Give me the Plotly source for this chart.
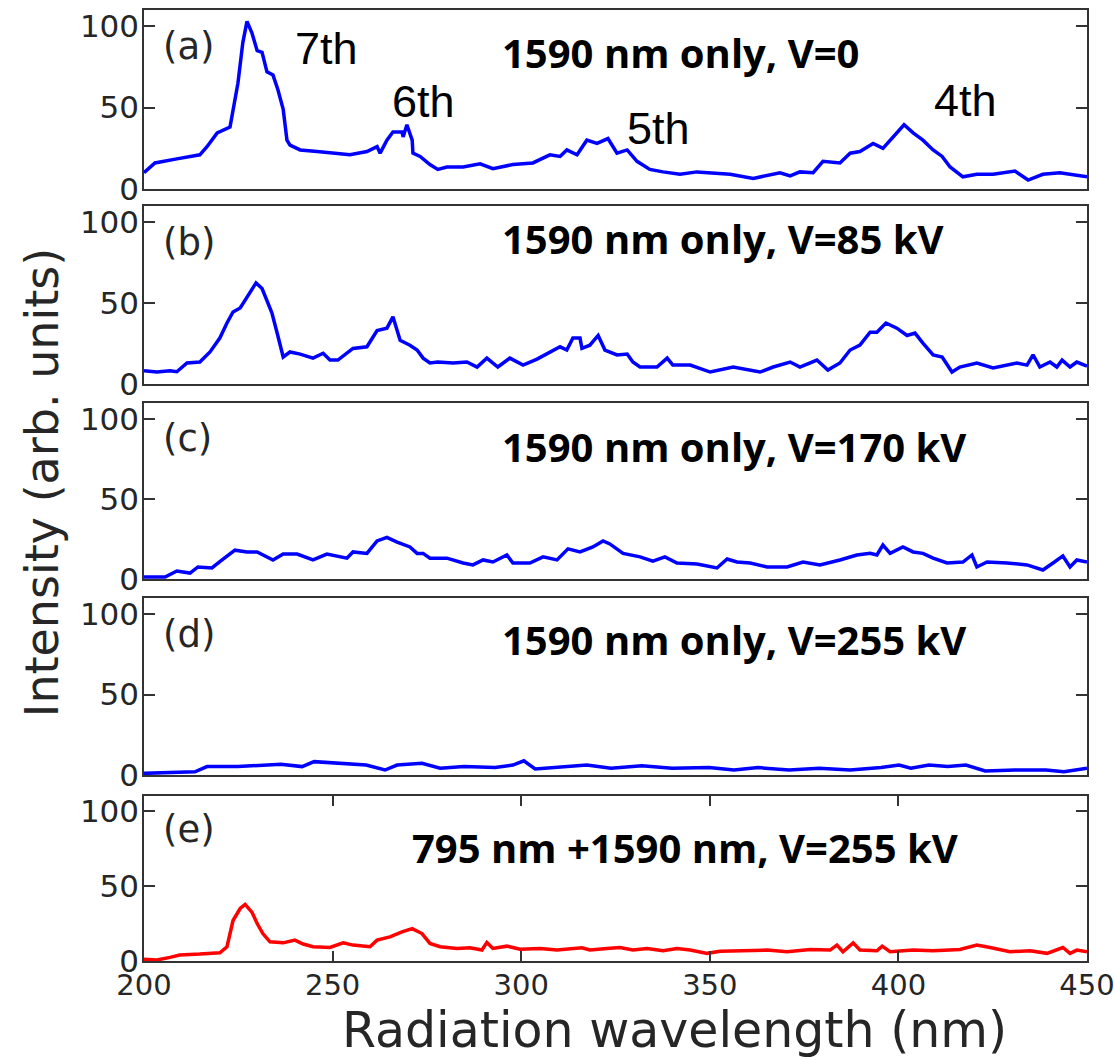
import plotly.graph_objects as go
from plotly.subplots import make_subplots

# Harmonic spectra, intensity (arb. units) vs radiation wavelength (nm)
wl_a = [200.0, 202.9, 208.7, 214.8, 216.7, 219.4, 222.8, 224.9, 226.2, 227.3, 228.6, 230.0,
        231.3, 232.6, 234.2, 235.5, 236.9, 237.9, 238.7, 241.4, 245.9, 250.1, 254.6, 259.1,
        261.8, 262.6, 264.4, 266.0, 268.4, 268.7, 269.7, 271.1, 271.3, 273.2, 275.8, 277.9,
        280.3, 284.6, 289.1, 292.5, 297.8, 303.1, 307.6, 310.3, 312.1, 314.8, 317.4, 320.1,
        323.0, 325.4, 328.1, 330.7, 334.1, 337.6, 342.1, 346.6, 350.8, 355.4, 361.5, 368.6,
        371.3, 373.9, 377.4, 380.0, 384.5, 387.2, 389.8, 393.3, 395.9, 398.6, 401.5, 403.9,
        406.5, 409.2, 411.6, 413.7, 417.1, 420.8, 425.1, 430.9, 434.4, 438.3, 442.8, 450.0]
int_a = [10, 16, 18.5, 21, 26, 34.5, 38, 65, 90, 103, 96, 85,
         84, 72, 70, 61, 49, 30, 27, 24, 23, 22, 21, 23,
         26, 22, 30, 35, 35, 32, 39.5, 30, 22, 20, 15, 12,
         13.5, 13.5, 15.5, 12.5, 15, 16, 21, 20, 24, 21, 30, 28,
         31, 22, 24, 17, 12, 10.5, 9, 10.5, 10, 9, 6.5, 10,
         8, 10.5, 10, 17, 16, 22, 23, 28, 25, 32, 39.5, 34.5,
         30, 24, 20, 13.5, 7.5, 9, 9, 11, 5.5, 9, 10, 7.5]

wl_b = [200.0, 203.4, 206.9, 208.7, 211.4, 214.8, 217.5, 220.1, 222.0, 223.6, 225.5, 227.6,
        229.7, 231.3, 232.6, 233.9, 235.3, 236.9, 238.7, 241.4, 244.8, 247.5, 249.3, 251.4,
        255.4, 259.1, 261.8, 264.4, 266.0, 267.9, 270.5, 272.4, 274.0, 275.8, 277.9, 281.9,
        285.6, 288.3, 290.9, 293.8, 297.0, 300.5, 304.2, 307.6, 310.3, 312.1, 313.7, 315.6,
        316.1, 318.2, 320.4, 322.2, 325.4, 328.1, 329.6, 331.5, 336.0, 338.7, 340.2, 344.8,
        350.1, 356.2, 363.3, 366.8, 371.3, 373.9, 378.4, 381.3, 384.5, 387.2, 389.8, 392.5,
        394.3, 396.7, 399.6, 402.3, 404.4, 406.5, 409.2, 411.6, 414.2, 416.3, 420.8, 425.1,
        428.8, 431.4, 434.1, 435.7, 437.5, 440.2, 442.0, 443.4, 445.5, 447.3, 450.0]
int_b = [8.2, 7.4, 8.2, 7.6, 13, 13.6, 19.8, 28.4, 37.7, 44.5, 47, 55,
         62.5, 59, 52, 44, 31.5, 16.7, 19.8, 18.5, 16, 19, 14.8, 14.8,
         22, 23, 33, 34.5, 41.5, 27, 24, 21, 16, 13, 13.6, 13,
         13.6, 10.5, 16, 10.5, 16, 11.7, 15.4, 19.8, 23, 21, 28.4, 28.4,
         22, 24, 30, 21, 18, 18.5, 13.6, 10.5, 10.5, 16, 11.7, 11.7,
         7.4, 10.5, 7.4, 10.5, 13.6, 10.5, 14.8, 8.6, 13, 21, 24, 32,
         32, 37.7, 34.5, 30, 31.5, 25.3, 18, 16.7, 7.4, 10.5, 13, 9.9,
         11.7, 13, 11.7, 18, 10.5, 13.6, 10.5, 14.8, 10.5, 13.6, 11]

wl_c = [200.0, 205.6, 208.7, 212.2, 214.3, 218.0, 220.7, 224.1, 227.3, 230.0, 234.2, 236.9,
        240.6, 244.8, 248.5, 253.8, 255.4, 259.1, 261.8, 264.4, 267.1, 270.5, 272.4, 274.0,
        275.8, 280.3, 284.6, 287.2, 289.9, 292.5, 296.2, 297.8, 302.3, 305.8, 309.5, 312.4,
        315.6, 319.0, 321.7, 323.5, 327.0, 331.5, 334.9, 338.1, 341.3, 346.6, 351.9, 354.6,
        357.2, 360.7, 365.2, 370.5, 374.7, 379.2, 384.5, 389.0, 392.5, 394.3, 395.9, 397.8,
        401.2, 403.9, 406.5, 409.2, 412.9, 417.1, 419.5, 420.8, 423.5, 428.8, 434.1, 438.3,
        441.0, 443.6, 445.5, 447.3, 450.0]
int_c = [1.2, 1.2, 5, 3.7, 7.5, 6.9, 11.9, 18, 16.9, 16.9, 11.9, 15.6,
         15.6, 11.9, 15.6, 13, 16.9, 16, 23.8, 26, 23, 20, 16, 16,
         13, 13, 10, 8.8, 11.9, 10.6, 15, 10, 10, 13.8, 11.9, 18.8,
         16.9, 20, 23.8, 21.9, 16, 13.8, 11.2, 13.8, 10, 9.4, 6.9, 12.5,
         10.6, 10, 7.5, 7.5, 10.6, 8.8, 11.9, 15, 16, 15, 21.2, 16,
         20, 16.9, 16, 13, 10, 10.6, 15, 7.5, 10.6, 10, 8.8, 5.6,
         10, 14.4, 7.5, 11.9, 10.6]

wl_d = [200.0, 213.5, 216.7, 224.9, 236.3, 241.9, 245.1, 252.5, 258.9, 263.9, 267.1, 273.7,
        278.5, 284.8, 293.1, 297.8, 300.7, 303.7, 310.8, 317.4, 323.8, 332.0, 340.0, 349.8,
        356.4, 362.8, 371.0, 379.0, 387.2, 395.4, 400.2, 403.3, 408.1, 413.1, 417.9, 423.0,
        430.9, 439.1, 443.9, 450.0]
int_d = [1, 2, 5.2, 5.2, 6.7, 5.2, 8.3, 7.3, 6.2, 3.1, 6.2, 7.3,
         4.2, 5.2, 4.6, 6.2, 8.8, 3.7, 5.2, 6.2, 4.2, 5.8, 4.2, 4.6,
         3.1, 4.6, 3.1, 4.2, 3.1, 4.6, 6.2, 4.2, 6.2, 5.2, 6.2, 2.5,
         3.1, 3.1, 2, 4.2]

wl_e = [200.0, 203.4, 206.9, 209.5, 214.8, 220.1, 222.0, 223.6, 225.5, 226.8, 228.6, 230.0,
        231.5, 233.4, 236.9, 240.0, 242.2, 244.8, 249.3, 252.8, 255.4, 259.9, 261.8, 265.2,
        268.4, 271.1, 273.7, 275.8, 278.5, 283.0, 286.4, 289.6, 290.9, 292.5, 296.2, 299.7,
        305.0, 309.5, 316.1, 318.2, 322.7, 326.2, 329.6, 333.4, 337.6, 341.3, 344.8, 349.3,
        352.7, 358.8, 365.2, 370.5, 376.6, 381.9, 383.7, 385.3, 388.0, 389.8, 394.3, 395.7,
        397.8, 403.9, 409.2, 416.3, 420.8, 424.3, 429.6, 434.9, 439.4, 443.6, 445.5, 447.3,
        450.0]
int_e = [1.1, 0.7, 2.4, 4, 4.6, 5.5, 9.5, 27, 35, 37.7, 32.6, 25,
         18.3, 12.8, 12.1, 13.9, 11.3, 9.5, 9, 12.1, 10.6, 9.5, 13.9, 16.1,
         19.4, 21.6, 18.3, 11.7, 9.5, 8.4, 8.8, 7.3, 12.4, 8.4, 9.9, 7.9,
         8.4, 7.3, 8.8, 7.3, 8.4, 9, 7.3, 8.4, 6.8, 8.4, 7.3, 5.1,
         6.5, 6.8, 7.3, 6.2, 7.7, 7.3, 10.6, 6.2, 12.1, 7.3, 6.8, 9.9,
         6.2, 7.3, 6.8, 7.7, 10.6, 9, 6.2, 6.8, 5.1, 9, 5.1, 7.3,
         6.2]

panel_tags = ["(a)", "(b)", "(c)", "(d)", "(e)"]
conditions = ["1590 nm only, V=0", "1590 nm only, V=85 kV", "1590 nm only, V=170 kV",
              "1590 nm only, V=255 kV", "795 nm +1590 nm, V=255 kV"]
harmonics = ["7th", "6th", "5th", "4th"]
x_ticks = [200, 250, 300, 350, 400, 450]
y_ticks = [0, 50, 100]

series = [(wl_a, int_a), (wl_b, int_b), (wl_c, int_c), (wl_d, int_d), (wl_e, int_e)]
colors = ["#0000FF", "#0000FF", "#0000FF", "#0000FF", "#FF0000"]

# vertical extent of each stacked panel (paper fraction)
domains = [(0.8118, 1.0), (0.6067, 0.7939), (0.4017, 0.5868), (0.1956, 0.3817), (0.0, 0.1735)]
cond_pos = [(294.4, 84), (294.4, 90), (294.4, 83), (294.4, 84.4), (270.5, 76)]
harm_pos = [(239.5, 86.4), (265.2, 53.7), (327.5, 37), (408.9, 54.3)]

AX_FONT = "DejaVu Sans"
FRAME = "#333333"
TXT = "#262626"

fig = make_subplots(rows=5, cols=1)

for i, ((xs, ys), col) in enumerate(zip(series, colors)):
    r = i + 1
    fig.add_trace(go.Scatter(x=xs, y=ys, mode="lines",
                             line=dict(color=col, width=3.5), showlegend=False),
                  row=r, col=1)
    last = (r == 5)
    fig.update_xaxes(range=[200, 450], domain=[0, 1], automargin=False,
                     showline=True, linecolor=FRAME, linewidth=1.5,
                     mirror="ticks" if last else True,
                     showgrid=False, zeroline=False,
                     tickvals=x_ticks, ticks="inside" if last else "", ticklen=10,
                     tickcolor=FRAME, tickwidth=1.5,
                     showticklabels=last, ticklabeloverflow="allow",
                     ticklabelstandoff=-3,
                     tickfont=dict(family=AX_FONT, size=29, color=TXT),
                     row=r, col=1)
    fig.update_yaxes(range=[0, 110], domain=list(domains[i]), automargin=False,
                     showline=True, linecolor=FRAME, linewidth=1.5, mirror="ticks",
                     showgrid=False, zeroline=False,
                     tickvals=y_ticks, ticks="inside", ticklen=11,
                     tickcolor=FRAME, tickwidth=1.5,
                     ticklabelstandoff=-3, ticklabeloverflow="allow",
                     tickfont=dict(family=AX_FONT, size=31, color=TXT),
                     row=r, col=1)

    xref = "x" if r == 1 else f"x{r}"
    yref = "y" if r == 1 else f"y{r}"
    fig.add_annotation(x=204.5, y=87.5, xref=xref, yref=yref, text=panel_tags[i],
                       showarrow=False, xanchor="left", yanchor="middle",
                       font=dict(family=AX_FONT, size=37, color=TXT))
    cx, cy = cond_pos[i]
    fig.add_annotation(x=cx, y=cy, xref=xref, yref=yref, text=f"<b>{conditions[i]}</b>",
                       showarrow=False, xanchor="left", yanchor="middle",
                       font=dict(family="Open Sans", size=40, color="black"))

for label, (hx, hy) in zip(harmonics, harm_pos):
    fig.add_annotation(x=hx, y=hy, xref="x", yref="y", text=label,
                       showarrow=False, xanchor="left", yanchor="middle",
                       font=dict(family="Liberation Sans", size=45, color="black"))

# axis titles
fig.add_annotation(x=0.563, y=-0.073, xref="paper", yref="paper",
                   text="Radiation wavelength (nm)", showarrow=False,
                   xanchor="center", yanchor="middle",
                   font=dict(family=AX_FONT, size=49, color=TXT))
fig.add_annotation(x=-0.108, y=0.5026, xref="paper", yref="paper",
                   text="Intensity (arb. units)", showarrow=False, textangle=-90,
                   xanchor="center", yanchor="middle",
                   font=dict(family=AX_FONT, size=46, color=TXT))

fig.update_layout(width=1115, height=1060,
                  margin=dict(l=144, r=28, t=10, b=99, autoexpand=False),
                  paper_bgcolor="white", plot_bgcolor="white")

fig.write_html("out.html")
